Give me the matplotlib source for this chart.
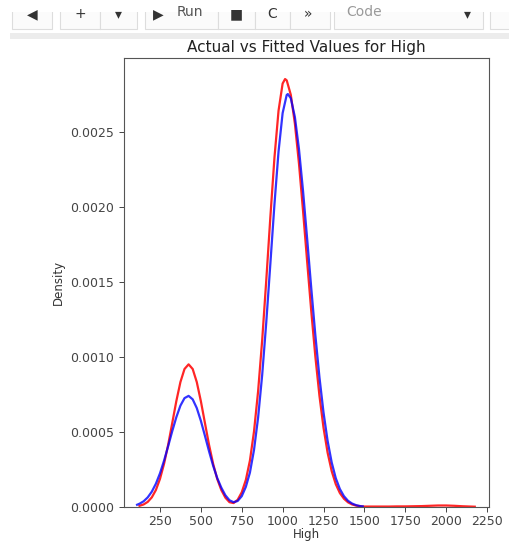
import matplotlib
matplotlib.use("Agg")
import matplotlib.pyplot as plt
from matplotlib.patches import Rectangle

# density curves (x = High, y = density)
red_x = [125, 150, 175, 200, 225, 250, 275, 300, 325, 350, 375, 400, 425, 450, 475,
         500, 525, 550, 575, 600, 625, 650, 675, 700, 725, 750, 775, 800, 825, 850,
         875, 900, 925, 950, 975, 1000, 1015, 1025, 1050, 1075, 1100, 1125, 1150, 1175,
         1200, 1225, 1250, 1275, 1300, 1325, 1350, 1375, 1400, 1425, 1450, 1475, 1500,
         1550, 1600, 1650, 1700, 1750, 1800, 1850, 1900, 1950, 2000, 2050, 2100, 2150, 2175]
red_density = [0.000008, 0.000017, 0.000034, 0.000064, 0.000113, 0.000187, 0.000288,
               0.000414, 0.000559, 0.000705, 0.000832, 0.000919, 0.000950, 0.000919,
               0.000832, 0.000705, 0.000559, 0.000414, 0.000288, 0.000187, 0.000113,
               0.000062, 0.000032, 0.000026, 0.000048, 0.000098, 0.000180, 0.000309,
               0.000503, 0.000770, 0.001111, 0.001510, 0.001931, 0.002326, 0.002639,
               0.002820, 0.002850, 0.002841, 0.002745, 0.002553, 0.002286, 0.001970,
               0.001634, 0.001305, 0.001003, 0.000742, 0.000528, 0.000362, 0.000239,
               0.000152, 0.000093, 0.000055, 0.000031, 0.000017, 0.000009, 0.000005,
               0.000003, 0.000003, 0.000003, 0.000003, 0.000004, 0.000004, 0.000005,
               0.000006, 0.000008, 0.000010, 0.000010, 0.000008, 0.000005, 0.000003,
               0.000002]

blue_x = [110, 125, 150, 175, 200, 225, 250, 275, 300, 325, 350, 375, 400, 425, 450,
          475, 500, 525, 550, 575, 600, 625, 650, 675, 700, 725, 750, 775, 800, 825,
          850, 875, 900, 925, 950, 975, 1000, 1025, 1032, 1050, 1075, 1100, 1125, 1150,
          1175, 1200, 1225, 1250, 1275, 1300, 1325, 1350, 1375, 1400, 1425, 1450, 1475, 1490]
blue_density = [0.000015, 0.000022, 0.000038, 0.000064, 0.000102, 0.000155, 0.000224,
                0.000309, 0.000405, 0.000505, 0.000598, 0.000675, 0.000725, 0.000740,
                0.000717, 0.000659, 0.000574, 0.000474, 0.000371, 0.000275, 0.000193,
                0.000129, 0.000078, 0.000045, 0.000032, 0.000040, 0.000072, 0.000134,
                0.000229, 0.000380, 0.000595, 0.000879, 0.001230, 0.001620, 0.002015,
                0.002367, 0.002623, 0.002744, 0.002750, 0.002722, 0.002597, 0.002383,
                0.002103, 0.001786, 0.001459, 0.001146, 0.000866, 0.000630, 0.000441,
                0.000297, 0.000192, 0.000120, 0.000072, 0.000041, 0.000023, 0.000012,
                0.000006, 0.000004]

x_ticks = [250, 500, 750, 1000, 1250, 1500, 1750, 2000, 2250]
y_ticks = [0.0, 0.0005, 0.0010, 0.0015, 0.0020, 0.0025]

W, H = 510, 541
fig = plt.figure(figsize=(W / 100, H / 100), dpi=100)

# notebook toolbar strip at the top (screenshot leftover, top half cut off)
bg = fig.add_axes([0, 0, 1, 1])
bg.set_xlim(0, W)
bg.set_ylim(H, 0)
bg.axis("off")
buttons = [(12, 52), (60, 100), (100, 137), (145, 218), (218, 255), (255, 290), (290, 330), (334, 483), (490, 515)]
for x0, x1 in buttons:
    bg.add_patch(Rectangle((x0, -10), x1 - x0, 39, facecolor="#fbfbfb", edgecolor="#dddddd", lw=0.8))
glyphs = [(32, "◀"), (80, "+"), (118, "▾"), (158, "▶"), (236, "■"), (272, "C"), (308, "»"), (467, "▾")]
for gx, g in glyphs:
    bg.text(gx, 14, g, fontsize=10, color="#333333", ha="center", va="center")
bg.text(190, 12, "Run", fontsize=10, color="#555555", ha="center", va="center")
bg.text(346, 12, "Code", fontsize=10, color="#999999", ha="left", va="center")
bg.add_patch(Rectangle((0, 0), W, 12, facecolor="white", edgecolor="none"))
bg.add_patch(Rectangle((10, 33), W, 6, facecolor="#ececec", edgecolor="none"))

ax = fig.add_axes([124 / W, 34 / H, 365 / W, 449 / H])
ax.plot(red_x, red_density, color="red", lw=1.6, alpha=0.85)
ax.plot(blue_x, blue_density, color="blue", lw=1.6, alpha=0.8)

ax.set_xlim(30, 2262)
ax.set_ylim(0, 0.00299)
ax.set_xticks(x_ticks)
ax.set_yticks(y_ticks)
ax.set_yticklabels(["%.4f" % v for v in y_ticks])
ax.tick_params(labelsize=9, colors="#444444", length=3.5, width=0.7)
ax.tick_params(axis="x", pad=2.5)
for sp in ax.spines.values():
    sp.set_color("#555555")
    sp.set_linewidth(0.8)

ax.set_title("Actual vs Fitted Values for High", fontsize=11, color="#222222", pad=4)
ax.set_xlabel("High", fontsize=8.5, color="#333333", labelpad=0)
ax.set_ylabel("Density", fontsize=8.5, color="#333333")

fig.savefig("out.png", dpi=100)
